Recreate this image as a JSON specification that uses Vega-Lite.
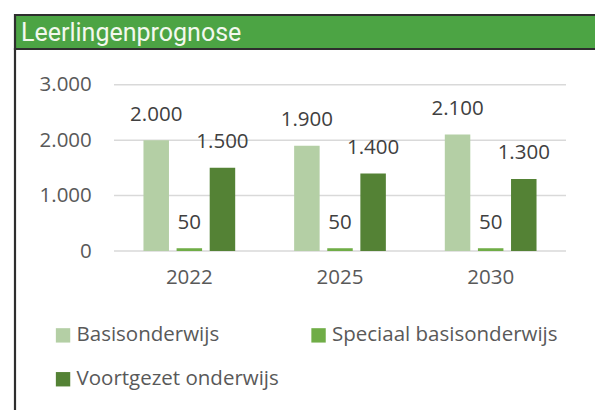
{
  "$schema": "https://vega.github.io/schema/vega-lite/v6.json",
  "padding": {"left": 13, "top": 13, "right": -8, "bottom": -8},
  "spacing": 0,
  "bounds": "flush",
  "config": {
    "font": "Open Sans",
    "view": {"stroke": null},
    "concat": {"spacing": 0},
    "locale": {"number": {"decimal": ",", "thousands": ".", "grouping": [3], "currency": ["€", ""]}}
  },
  "datasets": {
    "prognose": [
      {"jaar": "2022", "type": "Basisonderwijs", "aantal": 2000},
      {"jaar": "2022", "type": "Speciaal basisonderwijs", "aantal": 50},
      {"jaar": "2022", "type": "Voortgezet onderwijs", "aantal": 1500},
      {"jaar": "2025", "type": "Basisonderwijs", "aantal": 1900},
      {"jaar": "2025", "type": "Speciaal basisonderwijs", "aantal": 50},
      {"jaar": "2025", "type": "Voortgezet onderwijs", "aantal": 1400},
      {"jaar": "2030", "type": "Basisonderwijs", "aantal": 2100},
      {"jaar": "2030", "type": "Speciaal basisonderwijs", "aantal": 50},
      {"jaar": "2030", "type": "Voortgezet onderwijs", "aantal": 1300}
    ],
    "grid": [{"v": 0}, {"v": 1000}, {"v": 2000}, {"v": 3000}]
  },
  "vconcat": [
    {
      "width": 588,
      "height": 34,
      "view": {"fill": "#4ca444", "stroke": "#2e2e2e", "strokeWidth": 2.2},
      "data": {"values": [{"titel": "Leerlingenprognose"}]},
      "mark": {
        "type": "text",
        "align": "left",
        "baseline": "alphabetic",
        "dx": -288,
        "dy": 9.3,
        "font": "Roboto",
        "fontSize": 25,
        "fontWeight": "normal",
        "color": "#f3f8ee"
      },
      "encoding": {"text": {"field": "titel", "type": "nominal"}}
    },
    {
      "width": 588,
      "height": 368,
      "view": {"stroke": "#2e2e2e", "strokeWidth": 2.2, "fill": null},
      "resolve": {"scale": {"x": "independent"}},
      "layer": [
        {
          "data": {"name": "grid"},
          "mark": {"type": "rule", "color": "#d9d9d9", "strokeWidth": 1.5},
          "encoding": {
            "y": {
              "field": "v",
              "type": "quantitative",
              "scale": {"domain": [0, 3000], "range": [202, 35.7], "nice": false, "zero": true},
              "axis": {
                "orient": "left",
                "values": [0, 1000, 2000, 3000],
                "format": ",.0f",
                "grid": false,
                "domain": false,
                "ticks": false,
                "tickSize": 0,
                "labelPadding": 0,
                "offset": -76.3,
                "labelFont": "Open Sans",
                "labelFontSize": 20.5,
                "labelColor": "#595959",
                "title": null
              }
            },
            "x": {"datum": 0, "type": "quantitative", "scale": {"domain": [0, 1], "range": [99, 551]}, "axis": null},
            "x2": {"datum": 1}
          }
        },
        {
          "data": {"name": "prognose"},
          "mark": {"type": "bar"},
          "encoding": {
            "x": {
              "field": "jaar",
              "type": "nominal",
              "scale": {"range": [99, 551], "paddingInner": 0, "paddingOuter": 0},
              "axis": {
                "orient": "bottom",
                "offset": -166,
                "domain": false,
                "ticks": false,
                "tickSize": 0,
                "labelPadding": 16.5,
                "labelAngle": 0,
                "labelFont": "Open Sans",
                "labelFontSize": 20.5,
                "labelColor": "#595959",
                "title": null
              }
            },
            "xOffset": {
              "field": "type",
              "type": "nominal",
              "sort": ["Basisonderwijs", "Speciaal basisonderwijs", "Voortgezet onderwijs"],
              "scale": {"paddingInner": 0.23, "paddingOuter": 0.89}
            },
            "y": {"field": "aantal", "type": "quantitative"},
            "color": {
              "field": "type",
              "type": "nominal",
              "sort": ["Basisonderwijs", "Speciaal basisonderwijs", "Voortgezet onderwijs"],
              "scale": {
                "domain": ["Basisonderwijs", "Speciaal basisonderwijs", "Voortgezet onderwijs"],
                "range": ["#b4cfa5", "#70ad47", "#548235"]
              },
              "legend": {
                "orient": "none",
                "legendX": 37.8,
                "legendY": 310,
                "direction": "horizontal",
                "columns": 2,
                "title": null,
                "padding": 0,
                "symbolType": "square",
                "symbolSize": 207,
                "symbolStrokeWidth": 0,
                "labelFont": "Open Sans",
                "labelFontSize": 20.5,
                "labelColor": "#595959",
                "labelOffset": 3.2,
                "labelLimit": 400,
                "columnPadding": 28.5,
                "rowPadding": 23
              }
            }
          }
        },
        {
          "data": {"name": "prognose"},
          "mark": {"type": "text", "baseline": "middle", "dy": -25.5, "font": "Open Sans", "fontSize": 20.5, "color": "#404040"},
          "encoding": {
            "x": {
              "field": "jaar",
              "type": "nominal",
              "scale": {"range": [99, 551], "paddingInner": 0, "paddingOuter": 0},
              "axis": null
            },
            "xOffset": {
              "field": "type",
              "type": "nominal",
              "sort": ["Basisonderwijs", "Speciaal basisonderwijs", "Voortgezet onderwijs"],
              "scale": {"paddingInner": 0.23, "paddingOuter": 0.89}
            },
            "y": {"field": "aantal", "type": "quantitative"},
            "text": {"field": "aantal", "type": "quantitative", "format": ",.0f"}
          }
        }
      ]
    }
  ]
}
